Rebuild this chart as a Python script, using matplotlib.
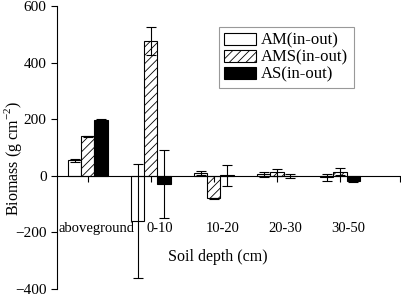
import matplotlib
matplotlib.use("Agg")
import matplotlib.pyplot as plt
import numpy as np

plt.rcParams['font.family'] = ['Liberation Serif', 'DejaVu Serif']
plt.rcParams['mathtext.fontset'] = 'custom'
plt.rcParams['mathtext.rm'] = 'Liberation Serif'
plt.rcParams['hatch.linewidth'] = 0.6

# data
groups = ['aboveground', '0-10', '10-20', '20-30', '30-50']
series = ['AM(in-out)', 'AMS(in-out)', 'AS(in-out)']
am = [55, -160, 10, 5, -5]
am_err = [5, 200, 8, 10, 12]
ams = [140, 475, -80, 12, 15]
ams_err = [2, 50, 3, 12, 12]
as_ = [197, -30, 2, 0, -18]
as_err = [5, 120, 37, 8, 5]

x = np.arange(len(groups))
w = 0.21

fig = plt.figure(figsize=(4.01, 2.95), dpi=100)
ax = fig.add_axes([0.142, 0.02, 0.855, 0.96])

styles = [dict(facecolor='white', hatch=None),
          dict(facecolor='white', hatch='////'),
          dict(facecolor='black', hatch=None)]
vals = [am, ams, as_]
errs = [am_err, ams_err, as_err]
for i in range(3):
    ax.bar(x + (i - 1) * w, vals[i], w, yerr=errs[i], label=series[i],
           edgecolor='black', linewidth=0.8,
           error_kw=dict(ecolor='black', elinewidth=0.8, capsize=3.5, capthick=0.8),
           **styles[i])

ax.set_xlim(-0.49, 4.95)
ax.set_ylim(-400, 600)
ax.set_yticks([-400, -200, 0, 200, 400, 600])
ax.tick_params(axis='y', direction='out', length=4, labelsize=11, width=0.8)
ax.spines['bottom'].set_position(('data', 0))
ax.spines['top'].set_visible(False)
ax.spines['right'].set_visible(False)
ax.set_xticks(list(x) + [4.95])
ax.set_xticklabels([])
ax.tick_params(axis='x', direction='out', length=4, width=0.8)

for xi, g in zip(x, groups):
    ax.text(xi + 0.14, -187, g, ha='center', va='center', fontsize=10.5)
ax.text(2.06, -286, 'Soil depth (cm)', ha='center', va='center', fontsize=11.5)
ax.set_ylabel('Biomass (g cm$^{-2}$)', fontsize=11.5)
ax.yaxis.set_label_coords(-0.097, 0.463)

leg = ax.legend(loc='upper left', bbox_to_anchor=(0.447, 0.955), fontsize=12,
                frameon=True, fancybox=False, handlelength=1.9, handleheight=0.75,
                borderpad=0.35, labelspacing=0.05, handletextpad=0.3)
leg.get_frame().set_edgecolor('grey')
leg.get_frame().set_linewidth(0.8)

fig.savefig('out.png', dpi=100)
